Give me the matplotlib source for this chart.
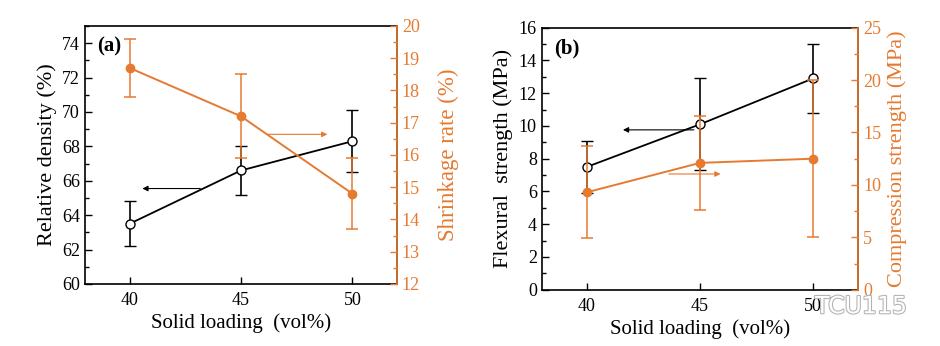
import matplotlib.pyplot as plt
import matplotlib.patheffects as pe
from matplotlib.ticker import MultipleLocator

plt.rcParams['font.family'] = ['Liberation Serif', 'DejaVu Serif']
plt.rcParams['mathtext.fontset'] = 'stix'

ORANGE = '#E57A30'

# solid loading (vol%)
loading = [40, 45, 50]

# panel (a)
density = [63.5, 66.6, 68.3]
density_err = [1.3, 1.4, 1.8]
shrinkage = [18.7, 17.2, 14.8]
shrinkage_err = [0.9, 1.3, 1.1]

# panel (b)
flexural = [7.5, 10.1, 12.9]
flexural_err = [1.6, 2.8, 2.1]
compression = [9.3, 12.1, 12.5]
compression_err = [4.4, 4.5, 7.5]


def style_axes(ax, ax2):
    ax.set_xlim(38, 52)
    ax.set_xticks(loading)
    ax.tick_params(axis='x', direction='in', length=5, width=1, labelsize=13, pad=6)
    ax.tick_params(axis='y', which='both', direction='in', labelsize=13, width=1)
    ax.tick_params(axis='y', which='major', length=5)
    ax.tick_params(axis='y', which='minor', length=3)
    ax.tick_params(top=False)
    for s in ax.spines.values():
        s.set_linewidth(1.2)
    ax2.tick_params(axis='y', which='both', direction='in', colors=ORANGE, labelsize=13, width=1)
    ax2.tick_params(axis='y', which='major', length=5)
    ax2.tick_params(axis='y', which='minor', length=3)
    ax2.spines['right'].set_color(ORANGE)
    ax2.spines['right'].set_linewidth(1.2)
    for side in ['left', 'top', 'bottom']:
        ax2.spines[side].set_visible(False)


def draw_pair(ax, left, left_err, right, right_err):
    ax.errorbar(loading, left, yerr=left_err, color='black', lw=1.3, elinewidth=1.2,
                capsize=4.5, capthick=1.2, marker='o', ms=6.5, mfc='white', mec='black',
                mew=1, zorder=3)
    ax2 = ax.twinx()
    ax2.errorbar(loading, right, yerr=right_err, color=ORANGE, lw=1.4, elinewidth=1.1,
                 capsize=4.5, capthick=1.1, marker='o', ms=6, mfc=ORANGE, mec=ORANGE,
                 zorder=3)
    return ax2


fig = plt.figure(figsize=(9.4, 3.46), dpi=100)

# ---- (a) relative density / shrinkage rate
ax_a = fig.add_axes([0.0904, 0.1792, 0.3319, 0.7457])
ax_a2 = draw_pair(ax_a, density, density_err, shrinkage, shrinkage_err)
ax_a.set_ylim(60, 75)
ax_a.yaxis.set_major_locator(MultipleLocator(2))
ax_a.yaxis.set_minor_locator(MultipleLocator(1))
ax_a2.set_ylim(12, 20)
ax_a2.yaxis.set_major_locator(MultipleLocator(1))
ax_a2.yaxis.set_minor_locator(MultipleLocator(0.5))
style_axes(ax_a, ax_a2)
ax_a.set_yticks(range(60, 75, 2))
ax_a.set_xlabel('Solid loading  (vol%)', fontsize=15, labelpad=3)
ax_a.set_ylabel('Relative density (%)', fontsize=16, labelpad=4)
ax_a2.set_ylabel('Shrinkage rate (%)', fontsize=16.5, color=ORANGE, labelpad=13)
ax_a.text(0.04, 0.92, '(a)', transform=ax_a.transAxes, fontsize=15,
          fontweight='bold', va='center', ha='left')
ax_a.annotate('', xy=(40.45, 65.55), xytext=(43.3, 65.55),
              arrowprops=dict(arrowstyle='-|>', color='black', lw=0.8, mutation_scale=8))
ax_a2.annotate('', xy=(49.0, 16.64), xytext=(46.1, 16.64),
               arrowprops=dict(arrowstyle='-|>', color=ORANGE, lw=0.8, mutation_scale=8))

# ---- (b) flexural / compression strength
ax_b = fig.add_axes([0.5763, 0.1627, 0.3368, 0.7573])
ax_b2 = draw_pair(ax_b, flexural, flexural_err, compression, compression_err)
ax_b.set_ylim(0, 16)
ax_b.yaxis.set_major_locator(MultipleLocator(2))
ax_b.yaxis.set_minor_locator(MultipleLocator(1))
ax_b2.set_ylim(0, 25)
ax_b2.yaxis.set_major_locator(MultipleLocator(5))
ax_b2.yaxis.set_minor_locator(MultipleLocator(2.5))
style_axes(ax_b, ax_b2)
ax_b.set_xlabel('Solid loading  (vol%)', fontsize=15, labelpad=3)
ax_b.set_ylabel('Flexural  strength (MPa)', fontsize=16, labelpad=4)
ax_b2.set_ylabel('Compression strength (MPa)', fontsize=16, color=ORANGE, labelpad=4)
ax_b.text(0.04, 0.92, '(b)', transform=ax_b.transAxes, fontsize=15,
          fontweight='bold', va='center', ha='left')
ax_b.annotate('', xy=(41.47, 9.76), xytext=(44.85, 9.76),
              arrowprops=dict(arrowstyle='-|>', color='black', lw=0.8, mutation_scale=8))
ax_b2.annotate('', xy=(46.03, 11.04), xytext=(43.5, 11.04),
               arrowprops=dict(arrowstyle='-|>', color=ORANGE, lw=0.8, mutation_scale=8))

# account tag in the lower right corner
fig.text(0.965, 0.115, 'TCU115', fontsize=17, color='white', ha='right', va='center',
         family='DejaVu Sans',
         path_effects=[pe.withStroke(linewidth=1.6, foreground='#b5b5b5')])

fig.savefig('out.png', dpi=100)
